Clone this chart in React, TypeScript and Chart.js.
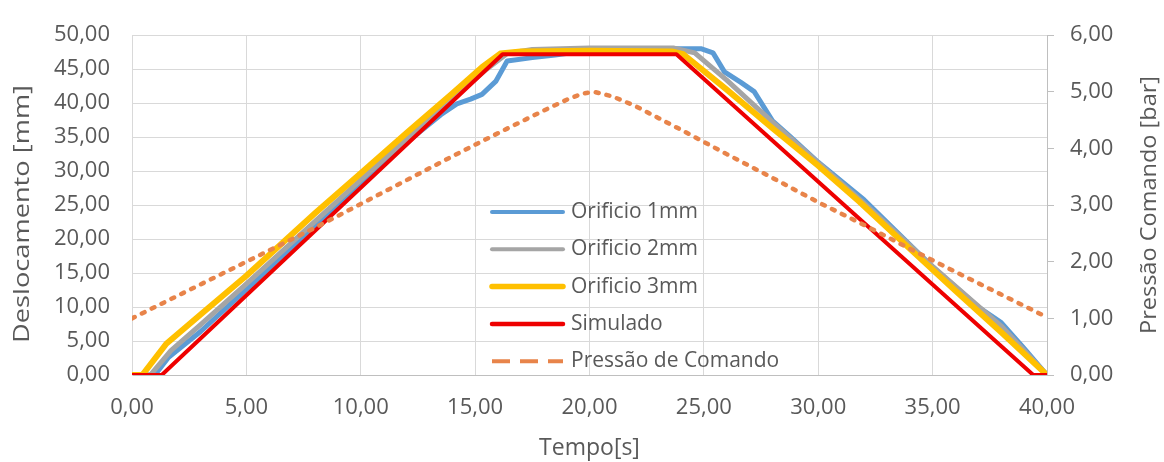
import React, { useEffect, useRef } from "react";
import { Chart, registerables } from "chart.js";

Chart.register(...registerables);

// ---- data ----
const tempo1 = [0, 1.0, 1.6, 3, 5, 8, 10, 12, 13.5, 14.2, 14.8, 15.3, 15.9, 16.4, 17.5, 18.5, 20, 22, 24.9, 25.4, 25.9, 26.6, 27.2, 28.0, 28.8, 30, 32, 35, 37, 38, 39, 40];
const desloc1 = [0, 0, 2.6, 6.4, 12.6, 22, 28.3, 34.2, 38.3, 39.9, 40.6, 41.3, 43.2, 46.2, 46.7, 47.1, 47.8, 48.0, 48.0, 47.4, 44.6, 43.1, 41.7, 37.4, 35.0, 31.3, 25.8, 15.9, 10.0, 7.7, 3.9, 0];

const tempo2 = [0, 0.8, 1.7, 3, 5, 8, 10, 12, 14, 15.5, 16.4, 17.5, 20, 23.7, 24.6, 26, 28, 30, 32, 35, 38, 40];
const desloc2 = [0, 0, 3.6, 7.4, 13.4, 22.6, 28.7, 34.7, 40.6, 45.0, 47.3, 47.9, 48.1, 48.1, 47.4, 43.4, 37.2, 31.2, 25.3, 16.0, 7.2, 0];

const tempo3 = [0, 0.45, 1.5, 3, 5, 8, 10, 12, 14, 15.3, 16.1, 17, 20, 23.6, 24.1, 26, 28, 30, 31.8, 34, 36, 38, 40];
const desloc3 = [0, 0, 4.6, 8.9, 14.6, 23.8, 29.7, 35.6, 41.4, 45.3, 47.3, 47.6, 47.7, 47.6, 47.2, 42.0, 36.3, 30.8, 25.5, 18.6, 12.4, 6.3, 0];

const tempoS = [0, 1.3, 16.2, 23.8, 39.4, 40];
const deslocS = [0, 0, 47.2, 47.2, 0, 0];

const tempoP = [0, 2, 4, 6, 8, 10, 12, 14, 16, 17, 18, 19, 19.7, 20.2, 21, 22, 23, 24, 26, 28, 30, 32, 34, 36, 38, 40];
const pressao = [1.0, 1.4, 1.8, 2.2, 2.6, 3.02, 3.44, 3.86, 4.27, 4.47, 4.67, 4.86, 4.97, 5.0, 4.92, 4.75, 4.54, 4.33, 3.9, 3.48, 3.05, 2.65, 2.23, 1.82, 1.42, 1.02];

const seriesLabels = ["Orificio 1mm", "Orificio 2mm", "Orificio 3mm", "Simulado", "Pressão de Comando"];
const xTitle = "Tempo[s]";
const yTitle = "Deslocamento [mm]";
const y1Title = "Pressão Comando [bar]";

const FONT = "'Open Sans', sans-serif";
const TEXT = "#595959";
const GRID = "#D9D9D9";
const AXIS = "#BFBFBF";

const fmt = (v: number | string) => Number(v).toFixed(2).replace(".", ",");
const pts = (xs: number[], ys: number[]) => xs.map((x, i) => ({ x, y: ys[i] }));

function drawRotated(ctx: CanvasRenderingContext2D, text: string, cx: number, cy: number, len: number) {
  ctx.save();
  ctx.translate(cx, cy);
  ctx.rotate(-Math.PI / 2);
  const w = ctx.measureText(text).width;
  ctx.scale(len / w, 1);
  ctx.textAlign = "center";
  ctx.textBaseline = "middle";
  ctx.fillText(text, 0, 0);
  ctx.restore();
}

const overlayPlugin = {
  id: "overlay",
  afterDraw(chart: any) {
    const ctx: CanvasRenderingContext2D = chart.ctx;
    ctx.save();
    ctx.fillStyle = TEXT;
    ctx.font = `22px ${FONT}`;
    drawRotated(ctx, yTitle, 23, 214, 258);
    drawRotated(ctx, y1Title, 1150, 205, 258);

    // legend inside plot area
    const x0 = 492, x1 = 563, tx = 571, y0 = 212, step = 37.3;
    ctx.font = `21px ${FONT}`;
    ctx.textAlign = "left";
    ctx.textBaseline = "middle";
    chart.data.datasets.forEach((ds: any, i: number) => {
      const y = y0 + i * step;
      ctx.save();
      ctx.strokeStyle = ds.borderColor;
      ctx.lineWidth = ds.legendWidth;
      ctx.lineCap = ds.legendDash ? "butt" : "round";
      if (ds.legendDash) ctx.setLineDash(ds.legendDash);
      ctx.beginPath();
      ctx.moveTo(x0, y);
      ctx.lineTo(x1, y);
      ctx.stroke();
      ctx.restore();
      ctx.fillStyle = TEXT;
      ctx.fillText(ds.label, tx, y);
    });
    ctx.restore();
  },
};

export default function App() {
  const ref = useRef<HTMLCanvasElement | null>(null);
  useEffect(() => {
    if (!ref.current) return;
    const tickFont = { family: FONT, size: 22 };
    const chart = new Chart(ref.current, {
      type: "line",
      data: {
        datasets: [
          { label: seriesLabels[0], data: pts(tempo1, desloc1), borderColor: "#5B9BD5", borderWidth: 5, legendWidth: 4, yAxisID: "y", order: 5 } as any,
          { label: seriesLabels[1], data: pts(tempo2, desloc2), borderColor: "#A5A5A5", borderWidth: 5, legendWidth: 4, yAxisID: "y", order: 4 } as any,
          { label: seriesLabels[2], data: pts(tempo3, desloc3), borderColor: "#FFC000", borderWidth: 6, legendWidth: 5.5, yAxisID: "y", order: 3 } as any,
          { label: seriesLabels[3], data: pts(tempoS, deslocS), borderColor: "#EE0000", borderWidth: 4, legendWidth: 4.5, yAxisID: "y", order: 2 } as any,
          { label: seriesLabels[4], data: pts(tempoP, pressao), borderColor: "#E8844A", borderWidth: 4.5, borderDash: [3, 8], borderCapStyle: "round", legendWidth: 4, legendDash: [18, 10], yAxisID: "y1", order: 1 } as any,
        ],
      },
      options: {
        animation: false,
        responsive: false,
        devicePixelRatio: 1,
        parsing: false as any,
        elements: { point: { radius: 0 }, line: { tension: 0, borderJoinStyle: "round", borderCapStyle: "round" } },
        layout: { padding: { top: 25, left: 0, right: 0, bottom: 0 } },
        plugins: { legend: { display: false }, tooltip: { enabled: false } },
        scales: {
          x: {
            type: "linear",
            min: 0,
            max: 40,
            ticks: { stepSize: 5, callback: (v: any) => fmt(v), font: tickFont, color: TEXT, padding: 20, maxRotation: 0 },
            grid: { color: GRID, drawTicks: false },
            border: { color: AXIS },
            title: { display: true, text: xTitle, font: { family: FONT, size: 23 }, color: TEXT, padding: { top: 0, bottom: 0 } },
            afterFit: (s: any) => { s.height = 87; },
          },
          y: {
            position: "left",
            min: 0,
            max: 50,
            ticks: { stepSize: 5, callback: (v: any) => fmt(v), font: tickFont, color: TEXT, padding: 22 },
            grid: { color: GRID, drawTicks: false },
            border: { color: GRID },
            afterFit: (s: any) => { s.width = 132; },
          },
          y1: {
            position: "right",
            min: 0,
            max: 6,
            ticks: { stepSize: 1, callback: (v: any) => fmt(v), font: tickFont, color: TEXT, padding: 16 },
            grid: { drawOnChartArea: false, drawTicks: true, tickLength: 7, color: AXIS },
            border: { color: AXIS },
            afterFit: (s: any) => { s.width = 117; },
          },
        },
      } as any,
      plugins: [overlayPlugin],
    });
    return () => chart.destroy();
  }, []);
  return (
    <div style={{ position: "absolute", left: 0, top: 0, width: 1164, height: 462, background: "#fff" }}>
      <canvas ref={ref} width={1164} height={462} style={{ display: "block" }} />
    </div>
  );
}
